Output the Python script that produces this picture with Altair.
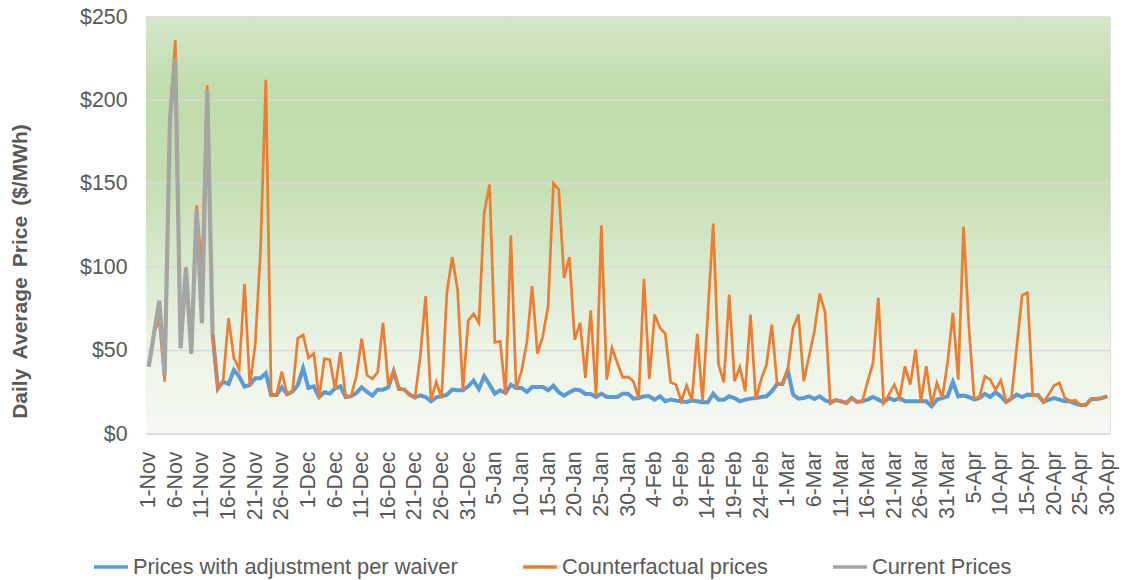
import altair as alt
import pandas as pd

# ---- data ----
days = [f"{d.day}-{d.strftime('%b')}" for d in pd.date_range("2018-11-01", "2019-04-30", freq="D")]
tick_days = days[::5]

series_names = ["Prices with adjustment per waiver", "Counterfactual prices", "Current Prices"]
series_colors = ["#5b9bd5", "#ed7d31", "#a5a5a5"]

# Current prices: 1-Nov .. 13-Nov
current = [40.4, 60, 80, 35.4, 189, 225, 51.4, 99.4, 48.4, 134.4, 66.4, 206.4, 60.4]

# Prices with adjustment per waiver: 13-Nov .. 30-Apr
adjusted_start = 12
adjusted = [
    60, 27.4, 31.4, 30, 38.4, 34.4, 28.4, 29.4, 33.4, 33.4, 36.4, 23.4, 23.4, 28, 23.8, 25.4, 29.4, 39.4,
    27.6, 28.6, 22.2, 25, 24.2, 27.4, 28.6, 22.2, 22.6, 24.6, 28, 25.2, 23, 26.6, 26.6, 28, 37.6, 27,
    26.6, 23.6, 22, 23.2, 22.2, 19.6, 22, 22.6, 23.6, 26.6, 26.2, 26.2, 28.6,
    32, 27, 34.6, 29.6, 24.2, 26.2, 24.6, 29.6, 27.6, 27.6, 25.2, 28.2, 28.2, 28.2, 26.2, 29, 25, 23,
    25, 26.6, 26.2, 24, 24, 22.2, 24.2, 22.2, 22.2, 22.2, 24.2, 24.2, 21.2,
    21.6, 22.6, 22.6, 20.6, 22.6, 19.6, 20.6, 20, 19.6, 19.2, 20, 19.6, 19, 19, 24.2, 20.6, 20.6, 22.6,
    21.6, 19.6, 20.6, 21.2, 21.6, 22.2, 22.6, 25.6, 30, 30, 38.2, 23.6, 21.2,
    21.6, 22.6, 21, 22.6, 20.2, 19, 20.2, 19.6, 18.6, 21.6, 19.2, 19.6, 20.6, 22.2, 20.6, 19, 21.6, 20.2,
    21.6, 19.6, 19.6, 19.6, 19.6, 19.6, 16.6, 20.6, 21.6, 22.6, 31.2, 22.6,
    23, 22.2, 20.6, 21.6, 24, 22.2, 25, 22.6, 19.2, 21.2, 23.6, 22.2, 23.6, 23.4, 23.2, 19.2, 20.6, 21.6,
    20.6, 19.6, 19.6, 18.2, 17.2, 17.6, 21, 21, 21.6, 22.6,
]

# Counterfactual prices: 1-Nov .. 30-Apr
counterfactual = [
    40.4, 61, 68, 31.4, 190, 236, 52, 100, 48, 137, 98, 209, 59.4, 26.8, 32.4, 69.4, 45.4, 38.8, 90, 28.8,
    53.4, 110, 212.4, 23, 23.4, 37.4, 23.8, 25.4, 57.4, 59.4,
    45.6, 48.2, 21.6, 45.2, 44.6, 27, 49, 22.2, 22.6, 34.6, 57.2, 35.2, 33, 37, 66.6, 29, 37.6, 27, 26.6,
    23.2, 21.6, 46.6, 82.6, 20.2, 31.2, 21.6, 85, 106, 86.6, 26.2, 68,
    72, 66.6, 132.6, 149.6, 55, 55.6, 23.6, 119, 27, 37.6, 54.6, 88.6, 48.2, 58.6, 76.6, 150.2, 146.6,
    93.6, 106, 56.6, 66.6, 33.6, 74.2, 22.6, 125, 32.6, 51.6, 42.6, 34, 34.2, 31.6,
    21.6, 93, 33, 71.6, 63.6, 60.2, 31, 29.6, 19.6, 29, 20.2, 60, 19.6, 72.6, 126.2, 41.6, 31, 83.6,
    31.6, 40.2, 25.6, 71.6, 20.6, 32.6, 41.6, 65.6, 30, 30, 38.6, 63.6, 71.6,
    31.6, 46.6, 61.6, 84.2, 73, 18.2, 20.6, 19.6, 18.2, 21.6, 19.2, 19.6, 31.6, 42.6, 81.6, 18.6, 23.6,
    29.6, 21.6, 40.6, 29.6, 50.6, 19.2, 40.6, 17.6, 30.6, 21.6, 42.6, 72.6, 32.6,
    124.2, 64.6, 21, 22.2, 34.6, 32.6, 26.6, 32.2, 19.2, 21.6, 52.6, 83.2, 84.6, 23, 23, 19, 23.6, 29,
    30.6, 21.6, 19.6, 20.2, 17.2, 17.2, 21, 21, 21.6, 22.6,
]

y_ticks = [0, 50, 100, 150, 200, 250]

# ---- tables ----
df_adj = pd.DataFrame({"day": days[adjusted_start:adjusted_start + len(adjusted)],
                       "price": adjusted, "series": series_names[0]})
df_cf = pd.DataFrame({"day": days[:len(counterfactual)], "price": counterfactual, "series": series_names[1]})
df_cur = pd.DataFrame({"day": days[:len(current)], "price": current, "series": series_names[2]})
df_grid = pd.DataFrame({"price": y_ticks})

W, H = 964, 417
FONT = "Liberation Sans"
TXT = "#595959"

x_enc = alt.X(
    "day:O",
    sort=days,
    scale=alt.Scale(type="point", domain=days, padding=0.5),
    axis=alt.Axis(values=tick_days, labelAngle=-90, labelFont=FONT, labelFontSize=21.3,
                  labelColor=TXT, labelPadding=17, ticks=False, domain=False, title=None,
                  labelOverlap=False),
)
y_enc = alt.Y(
    "price:Q",
    scale=alt.Scale(domain=[0, 250], nice=False),
    axis=alt.Axis(values=y_ticks, format="$.0f", labelFont=FONT, labelFontSize=21.3, labelColor=TXT,
                  labelPadding=19, ticks=False, domain=False, grid=False,
                  title="Daily\u2009 Average\u2009 Price\u2009 ($/MWh)", titleFont=FONT, titleFontSize=21,
                  titleFontWeight="bold", titleColor=TXT, titleX=-116, titleY=254),
)
color_enc = alt.Color(
    "series:N",
    scale=alt.Scale(domain=series_names, range=series_colors),
    legend=alt.Legend(orient="none", legendX=-54, legendY=531, direction="horizontal", title=None,
                      labelFont=FONT, labelFontSize=21.8, labelColor=TXT, labelLimit=600,
                      symbolType="stroke", symbolSize=1156, symbolStrokeWidth=3.5,
                      labelOffset=3, columnPadding=58, padding=0),
)

bg = alt.Chart(alt.Data(values=[{"a": 1}])).mark_rect(
    fill=alt.Gradient(
        gradient="linear", x1=0, x2=0, y1=0, y2=1,
        stops=[
            alt.GradientStop(color="#d4e7c9", offset=0),
            alt.GradientStop(color="#c1dcab", offset=0.18),
            alt.GradientStop(color="#c4deb1", offset=0.38),
            alt.GradientStop(color="#d9e9ce", offset=0.6),
            alt.GradientStop(color="#ebf3e5", offset=0.8),
            alt.GradientStop(color="#f6f9f3", offset=1),
        ],
    )
).encode(x=alt.value(0), x2=alt.value(W), y=alt.value(0), y2=alt.value(H))

grid = alt.Chart(df_grid).mark_rule(color="#d9d9d9", strokeWidth=1.5).encode(y=y_enc)

line_adj = alt.Chart(df_adj).mark_line(strokeWidth=4).encode(x=x_enc, y=y_enc, color=color_enc)
line_cf = alt.Chart(df_cf).mark_line(strokeWidth=2.7).encode(x=x_enc, y=y_enc, color=color_enc)
line_cur = alt.Chart(df_cur).mark_line(strokeWidth=4.2).encode(x=x_enc, y=y_enc, color=color_enc)

chart = alt.layer(bg, grid, line_adj, line_cf, line_cur).properties(
    width=W, height=H,
    autosize=alt.AutoSizeParams(type="none"),
    padding={"left": 146, "top": 17, "right": 14, "bottom": 146},
).configure_view(stroke=None).configure(background="white")

chart.save("out.html", embed_options={"renderer": "svg", "actions": False})
